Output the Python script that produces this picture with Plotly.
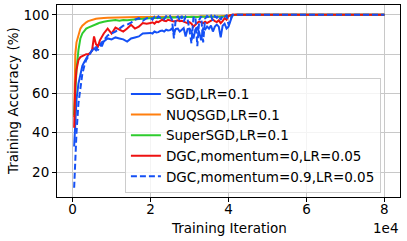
import plotly.graph_objects as go

# Iteration grid
iters = [400, 700, 1000, 1500, 2000, 2500, 3000, 3500, 4000, 4500, 5000, 5500, 6000, 6500, 7000, 7500, 8000,
         9000, 10000, 11000, 12000, 13000, 14000, 15000, 16000, 17000, 18000, 19000,
         20000, 20500, 21000, 21500, 22000, 22500, 23000, 23500, 24000, 24500,
         25000, 25500, 26000, 26500, 27000, 27500, 28000, 28500, 29000, 29500,
         30000, 30500, 31000, 31500, 32000, 32500, 33000, 33500, 34000, 34500,
         35000, 35500, 36000, 36500, 37000, 37500, 38000, 38500, 39000, 39500, 40000,
         41000, 42000, 50000, 60000, 70000, 80000]

sgd = [33, 50, 57, 65, 70, 74, 76, 78, 79.5, 80.5, 81.5, 83, 82, 84.5, 85.5, 84, 86.5,
       88, 87.5, 88.5, 88, 87.5, 86.4, 88, 88.5, 89, 90.5, 90.7,
       90.8, 90.5, 91.5, 91.0, 91.2, 91.8, 92.0, 91.5, 92.4, 92.0,
       92.2, 93.0, 91.0, 92.8, 93.0, 91.5, 92.5, 93.2, 89.0, 92.8,
       93.0, 91.5, 88.0, 92.5, 93.5, 91.0, 87.0, 93.0, 92.5, 94.0,
       93.0, 94.5, 91.5, 94.0, 95.0, 94.0, 88.5, 94.5, 95.5, 93.0, 94.0,
       99.8, 100, 100, 100, 100, 100]

nuqsgd = [48, 80, 86, 90, 93, 94.5, 95.5, 96.2, 96.8, 97.2, 97.5, 97.8, 98.0, 98.1, 98.3, 98.3, 98.4,
          98.5, 98.6, 98.6, 98.7, 98.7, 98.8, 98.8, 98.8, 98.9, 98.9, 98.9,
          99.0, 98.9, 99.0, 99.1, 99.0, 99.0, 99.1, 99.0, 99.1, 99.1,
          99.0, 99.1, 99.1, 99.2, 99.1, 99.1, 99.2, 99.1, 99.2, 99.2,
          99.1, 99.2, 99.2, 99.2, 99.1, 99.2, 99.3, 99.2, 99.2, 99.3,
          99.2, 99.3, 99.2, 99.3, 99.3, 99.2, 99.3, 99.3, 99.4, 99.5, 99.6,
          100, 100, 100, 100, 100, 100]

supersgd = [49, 65, 72, 82, 88, 90.5, 92, 93, 93.5, 94, 94.5, 95, 95.3, 95.6, 96, 96.3, 96.5,
            96.8, 97.0, 97.3, 97.0, 97.4, 97.3, 97.6, 97.8, 97.9, 98.0, 98.2,
            98.3, 98.2, 98.4, 98.5, 98.4, 98.5, 98.6, 98.5, 98.7, 98.6,
            98.7, 98.8, 98.7, 98.8, 98.8, 98.9, 98.8, 98.9, 98.9, 98.8,
            98.9, 99.0, 98.9, 99.0, 98.9, 99.0, 99.0, 98.9, 99.0, 99.1,
            99.0, 99.0, 99.1, 99.0, 99.1, 99.1, 99.0, 99.1, 99.2, 99.3, 99.4,
            99.9, 100, 100, 100, 100, 100]

dgc_m0 = [42.5, 65, 72, 77, 78.5, 79, 79.5, 80, 80, 80.5, 82, 89, 85, 84, 87, 89, 90.5,
          93, 90.5, 93.5, 92.5, 91.5, 93, 94.9, 93, 94, 95.8, 95.5,
          95.8, 96.2, 95.5, 96.5, 96.3, 97.0, 97.5, 97.0, 96.8, 97.5,
          97.2, 96.8, 96.6, 96.9, 97.2, 96.8, 97.0, 96.5, 96.2, 95.8,
          96.3, 95.5, 94.0, 95.2, 96.0, 96.6, 96.3, 95.8, 96.5, 95.8,
          96.4, 97.0, 97.5, 96.8, 96.3, 97.2, 95.8, 96.8, 98.3, 97.5, 99.5,
          100, 100, 100, 100, 100, 100]

dgc_m09 = [12, 28, 40, 55, 63, 70, 74, 77, 78.6, 80.5, 82, 83, 83.5, 82, 84.5, 86, 87,
           89.5, 90.5, 91.5, 93, 94.5, 95, 96, 97.5, 98.3, 97, 98.3,
           98.5, 97.5, 99.0, 98.0, 99.2, 98.5, 99.0, 97.8, 99.3, 98.6,
           99.4, 97.5, 88.0, 98.5, 99.2, 97.0, 99.5, 96.5, 99.0, 98.0,
           92.0, 85.5, 98.5, 99.2, 84.0, 97.5, 99.3, 86.0, 98.0, 99.4,
           98.5, 99.5, 97.0, 99.3, 98.5, 99.6, 97.5, 99.5, 99.0, 99.7, 95.0,
           100, 100, 100, 100, 100, 100]

for arr in (sgd, nuqsgd, supersgd, dgc_m0, dgc_m09):
    assert len(arr) == len(iters), (len(arr), len(iters))

names = ["SGD,LR=0.1", "NUQSGD,LR=0.1", "SuperSGD,LR=0.1",
         "DGC,momentum=0,LR=0.05", "DGC,momentum=0.9,LR=0.05"]
series = [sgd, nuqsgd, supersgd, dgc_m0, dgc_m09]
colors = ["#1450f5", "#ff7f0e", "#2ecc2e", "#ee1111", "#1450f5"]
dashes = ["solid", "solid", "solid", "solid", "6px,3px"]

xtick_vals = [0, 20000, 40000, 60000, 80000]
xtick_text = ["0", "2", "4", "6", "8"]
ytick_vals = [20, 40, 60, 80, 100]

FONT = "DejaVu Sans"
FS = 13.5

fig = go.Figure()
for name, ys, c, d in zip(names, series, colors, dashes):
    fig.add_trace(go.Scatter(x=iters, y=ys, mode="lines", name=name,
                             line=dict(color=c, width=2, dash=d)))

axis_common = dict(showline=True, linecolor="black", linewidth=1, mirror=True,
                   ticks="outside", ticklen=4, tickcolor="black", tickwidth=1,
                   showgrid=True, gridcolor="#c8c8c8", gridwidth=1, zeroline=False,
                   automargin=False,
                   tickfont=dict(family=FONT, size=FS, color="black"))

fig.update_layout(
    width=407, height=241,
    margin=dict(l=57, r=7, t=5, b=44, autoexpand=False),
    paper_bgcolor="white", plot_bgcolor="white",
    font=dict(family=FONT, size=FS, color="black"),
    showlegend=True,
    legend=dict(x=0.198, y=0.022, xanchor="left", yanchor="bottom",
                bgcolor="rgba(255,255,255,0.8)", bordercolor="#cccccc", borderwidth=1,
                font=dict(family=FONT, size=FS, color="black"),
                tracegroupgap=0),
    xaxis=dict(range=[-4000, 84000], tickvals=xtick_vals, ticktext=xtick_text,
               ticklabelstandoff=-4, **axis_common),
    yaxis=dict(range=[7.3, 105], tickvals=ytick_vals, **axis_common),
    annotations=[
        dict(text="Training Iteration", xref="paper", yref="paper", x=0.5, y=-0.16,
             xanchor="center", yanchor="middle", showarrow=False,
             font=dict(family=FONT, size=FS, color="black")),
        dict(text="1e4", xref="paper", yref="paper", x=1.0, y=-0.16,
             xanchor="right", yanchor="middle", showarrow=False,
             font=dict(family=FONT, size=FS, color="black")),
        dict(text="Training Accuracy (%)", xref="paper", yref="paper", x=-0.128, y=0.5,
             xanchor="center", yanchor="middle", textangle=-90, showarrow=False,
             font=dict(family=FONT, size=FS, color="black")),
    ],
)

fig.write_html("out.html", config={"displayModeBar": False},
               post_script="document.body.style.margin='0';")
